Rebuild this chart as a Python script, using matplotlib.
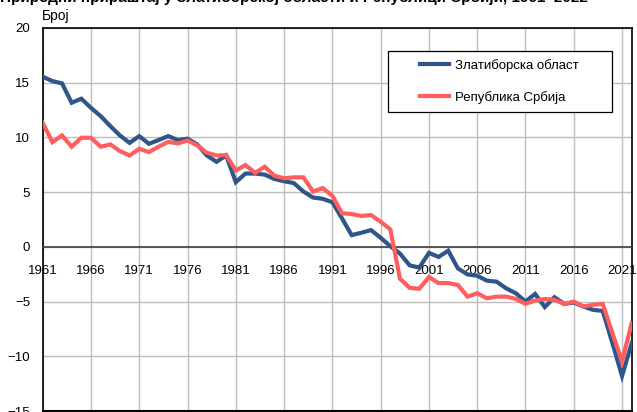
import numpy as np
import matplotlib
matplotlib.use("Agg")
from matplotlib import pyplot as plt
from matplotlib.patches import Rectangle

plt.rcParams['font.family'] = ['Liberation Sans', 'DejaVu Sans']

years = np.arange(1961, 2023)

zlatiborska = [15.55, 15.15, 14.94, 13.17, 13.54, 12.7, 11.95, 11.04, 10.18, 9.5,
               10.12, 9.42, 9.76, 10.12, 9.76, 9.88, 9.36, 8.35, 7.77, 8.35,
               5.91, 6.7, 6.7, 6.6, 6.2, 6.0, 5.83, 5.06, 4.51, 4.39,
               4.08, 2.6, 1.07, 1.29, 1.53, 0.83, 0.06, -0.61, -1.69, -1.9,
               -0.55, -0.92, -0.35, -1.97, -2.52, -2.64, -3.09, -3.18, -3.79, -4.24,
               -5.0, -4.3, -5.5, -4.6, -5.21, -5.09, -5.45, -5.76, -5.85, -8.79,
               -11.8, -8.79]

srbija = [11.34, 9.57, 10.18, 9.15, 9.97, 9.97, 9.15, 9.36, 8.75, 8.35,
          8.96, 8.66, 9.15, 9.6, 9.45, 9.73, 9.27, 8.6, 8.35, 8.38,
          6.98, 7.47, 6.77, 7.32, 6.5, 6.27, 6.35, 6.35, 5.06, 5.37,
          4.66, 3.07, 3.0, 2.82, 2.91, 2.3, 1.6, -2.91, -3.74, -3.83,
          -2.76, -3.31, -3.31, -3.48, -4.55, -4.24, -4.7, -4.55, -4.55, -4.76,
          -5.21, -4.9, -4.76, -4.85, -5.21, -5.0, -5.45, -5.3, -5.21, -7.88,
          -10.45, -6.97]

labels = ['Златиборска област', 'Република Србија']
colors = ['#2F5689', '#FF5E5E']

fig = plt.figure(figsize=(6.37, 4.12), dpi=100)
ax = fig.add_axes([42.7 / 637, 1 / 412, 589 / 637, 383 / 412])

ax.plot(years, zlatiborska, color=colors[0], lw=3, label=labels[0],
        solid_joinstyle='miter', zorder=3)
ax.plot(years, srbija, color=colors[1], lw=3, label=labels[1],
        solid_joinstyle='miter', zorder=3)

ax.set_xlim(1961, 2022)
ax.set_ylim(-15, 20)
ax.set_xticks(np.arange(1961, 2022, 5))
ax.set_yticks(np.arange(-15, 21, 5))
ax.grid(True, color='#BDBDBD', lw=1)
ax.set_axisbelow(True)

for s in ['left', 'right', 'top']:
    ax.spines[s].set_color('black')
    ax.spines[s].set_linewidth(1.2)
ax.spines['bottom'].set_position(('data', 0))
ax.spines['bottom'].set_color('#404040')
ax.spines['bottom'].set_linewidth(1.2)
ax.axhline(-15, color='black', lw=1.5, clip_on=False)

ax.tick_params(axis='x', length=0, pad=13, labelsize=9.5)
ax.tick_params(axis='y', length=0, pad=9, labelsize=9.5)

# legend box
box_x, box_y, box_w, box_h = 0.586, 0.781, 0.38, 0.159
ax.add_patch(Rectangle((box_x, box_y), box_w, box_h, transform=ax.transAxes,
                       facecolor='white', edgecolor='black', lw=0.9, zorder=4))
ax.legend(loc='center', bbox_to_anchor=(box_x + box_w / 2, box_y + box_h / 2),
          frameon=False, fontsize=9.5, handlelength=2.2, handletextpad=0.45,
          labelspacing=1.45).set_zorder(5)

fig.text(42 / 637, 1 - 20 / 412, 'Број', fontsize=10, va='baseline')
fig.text(0.0, 1 - 2 / 412,
         'Природни прираштај у Златиборској области и Републици Србији, 1961–2022',
         fontsize=11, fontweight='bold', va='baseline')

fig.savefig('out.png', dpi=100)
